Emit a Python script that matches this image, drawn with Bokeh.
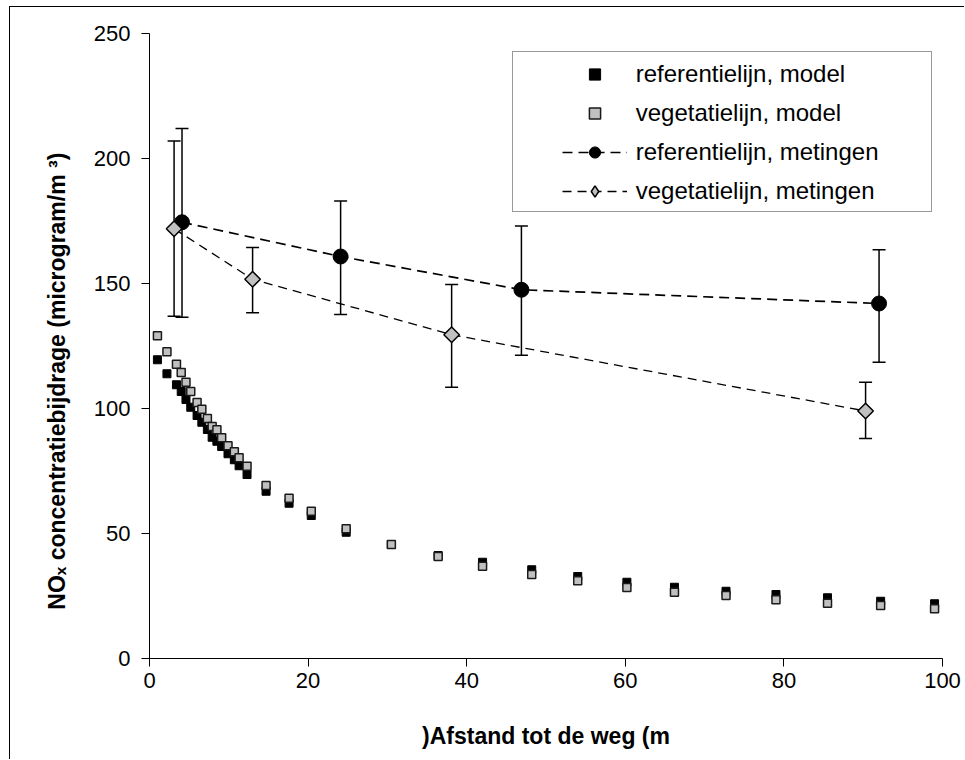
from bokeh.plotting import figure
from bokeh.models import (Range1d, FixedTicker, ColumnDataSource, Whisker, TeeHead,
                          Legend, LegendItem)
from bokeh.embed import file_html
from bokeh.resources import INLINE

# ---- data ----
afstand_model = [1.0, 2.2, 3.4, 4.0, 4.6, 5.2, 6.0, 6.6, 7.3, 7.9, 8.5, 9.1, 9.9, 10.7, 11.3, 12.3,
                 14.7, 17.6, 20.4, 24.8, 30.5, 36.4, 42.0, 48.2, 54.0, 60.2, 66.2, 72.7, 79.0, 85.5, 92.2, 99.0]
ref_model = [119.5, 113.9, 109.5, 106.8, 103.6, 100.5, 97.2, 94.5, 91.6, 88.5, 86.9, 84.8, 81.9, 79.5, 77.1, 73.6,
             66.9, 62.1, 57.2, 50.5, 45.6, 41.2, 38.5, 35.5, 32.8, 30.5, 28.5, 26.9, 25.6, 24.3, 22.9, 21.9]
veg_model = [129.1, 122.7, 117.7, 114.4, 110.5, 106.8, 102.4, 99.7, 96.0, 92.8, 91.5, 88.3, 85.1, 82.7, 80.3, 76.9,
             69.2, 64.1, 58.9, 51.9, 45.6, 40.8, 36.9, 33.6, 31.1, 28.4, 26.5, 25.2, 23.5, 22.1, 21.2, 19.9]

ref_x = [4.1, 24.1, 46.9, 92.0]
ref_y = [174.5, 160.8, 147.5, 142.0]
ref_hi = [212.0, 183.0, 173.0, 163.5]
ref_lo = [136.5, 137.6, 121.3, 118.5]

veg_x = [3.1, 13.0, 38.1, 90.3]
veg_y = [171.9, 151.7, 129.5, 99.0]
veg_hi = [207.0, 164.4, 149.6, 110.5]
veg_lo = [136.9, 138.3, 108.5, 88.0]

x_ticks = [0, 20, 40, 60, 80, 100]
y_ticks = [0, 50, 100, 150, 200, 250]

labels = ["referentielijn, model", "vegetatielijn, model",
          "referentielijn, metingen", "vegetatielijn, metingen"]

FONT = "Liberation Sans"
NAN = float("nan")

p = figure(width=955, height=753, output_backend="svg", toolbar_location=None,
           x_range=Range1d(0, 100), y_range=Range1d(0, 250),
           min_border_left=139, min_border_right=23, min_border_top=26, min_border_bottom=102)
p.margin = (6, 0, 0, 9)
p.styles = {"border-left": "1px solid black", "border-top": "1px solid black"}
p.outline_line_color = None
p.xgrid.visible = False
p.ygrid.visible = False
p.background_fill_color = "white"
p.border_fill_color = "white"

for ax, ticks in ((p.xaxis[0], x_ticks), (p.yaxis[0], y_ticks)):
    ax.ticker = FixedTicker(ticks=ticks)
    ax.axis_line_color = "black"
    ax.axis_line_width = 1
    ax.major_tick_line_color = "black"
    ax.major_tick_in = 0
    ax.major_tick_out = 8
    ax.minor_tick_line_color = None
    ax.major_label_text_font = FONT
    ax.major_label_text_font_size = "22px"
    ax.major_label_text_color = "black"
    ax.axis_label_text_font = FONT
    ax.axis_label_text_font_style = "bold"
    ax.axis_label_text_font_size = "23px"
    ax.axis_label_text_color = "black"

p.xaxis.major_label_standoff = 6
p.yaxis.major_label_standoff = 11
p.xaxis.axis_label = ")Afstand tot de weg (m"
p.yaxis.axis_label = "         NO\u2093 concentratiebijdrage (microgram/m   \u00b3)"
p.xaxis.axis_label_standoff = 32
p.yaxis.axis_label_standoff = 21

# error bars (under markers)
src_ref = ColumnDataSource(dict(x=ref_x, y=ref_y, hi=ref_hi, lo=ref_lo))
src_veg = ColumnDataSource(dict(x=veg_x, y=veg_y, hi=veg_hi, lo=veg_lo))
for src in (src_ref, src_veg):
    w = Whisker(source=src, base="x", upper="hi", lower="lo", level="underlay",
                line_color="black", line_width=1.5,
                upper_head=TeeHead(size=13, line_color="black", line_width=1.5),
                lower_head=TeeHead(size=13, line_color="black", line_width=1.5))
    p.add_layout(w)

# model points
r_ref_model = p.scatter(afstand_model, ref_model, marker="square", size=8,
                        fill_color="black", line_color="black", line_width=1)
r_veg_model = p.scatter(afstand_model, veg_model, marker="square", size=8,
                        fill_color="#c0c0c0", line_color="#1a1a1a", line_width=1.5)

# measurements
l_ref = p.line("x", "y", source=src_ref, line_color="black", line_width=1.7, line_dash="10 6")
m_ref = p.scatter("x", "y", source=src_ref, marker="circle", size=15,
                  fill_color="black", line_color="black")
l_veg = p.line("x", "y", source=src_veg, line_color="black", line_width=1.3, line_dash="9 6")
m_veg = p.scatter("x", "y", source=src_veg, marker="square", angle=0.7853981634, size=11,
                  fill_color="#c0c0c0", line_color="black", line_width=1.5)
# legend-only proxy for the diamond symbol (legend glyphs ignore angle); NaN -> not drawn in plot
m_veg_leg = p.scatter([NAN], [NAN], marker="diamond", size=17,
                      fill_color="#c0c0c0", line_color="black", line_width=1.5)

# legend box (background)
ghost = p.scatter([NAN], [NAN], marker="square", size=1, fill_alpha=0, line_alpha=0)
leg_box = Legend(items=[LegendItem(label=" ", renderers=[ghost])],
                 location=(362.7, 446.3), padding=0, spacing=0, margin=0,
                 glyph_width=1, glyph_height=159, label_height=159, label_width=417,
                 label_standoff=0, border_line_color="#333333", border_line_width=1.5,
                 background_fill_color="white", background_fill_alpha=1)
p.add_layout(leg_box)

leg = Legend(items=[LegendItem(label=labels[0], renderers=[r_ref_model]),
                    LegendItem(label=labels[1], renderers=[r_veg_model]),
                    LegendItem(label=labels[2], renderers=[l_ref, m_ref]),
                    LegendItem(label=labels[3], renderers=[l_veg, m_veg_leg])],
             location=(404.7, 444.7), padding=8, spacing=11, margin=0,
             glyph_width=65, glyph_height=28, label_height=28, label_standoff=9,
             label_text_font=FONT, label_text_font_size="24px", label_text_color="black",
             border_line_alpha=0, background_fill_alpha=0)
p.add_layout(leg)

open("out.html", "w").write(file_html(p, INLINE))
